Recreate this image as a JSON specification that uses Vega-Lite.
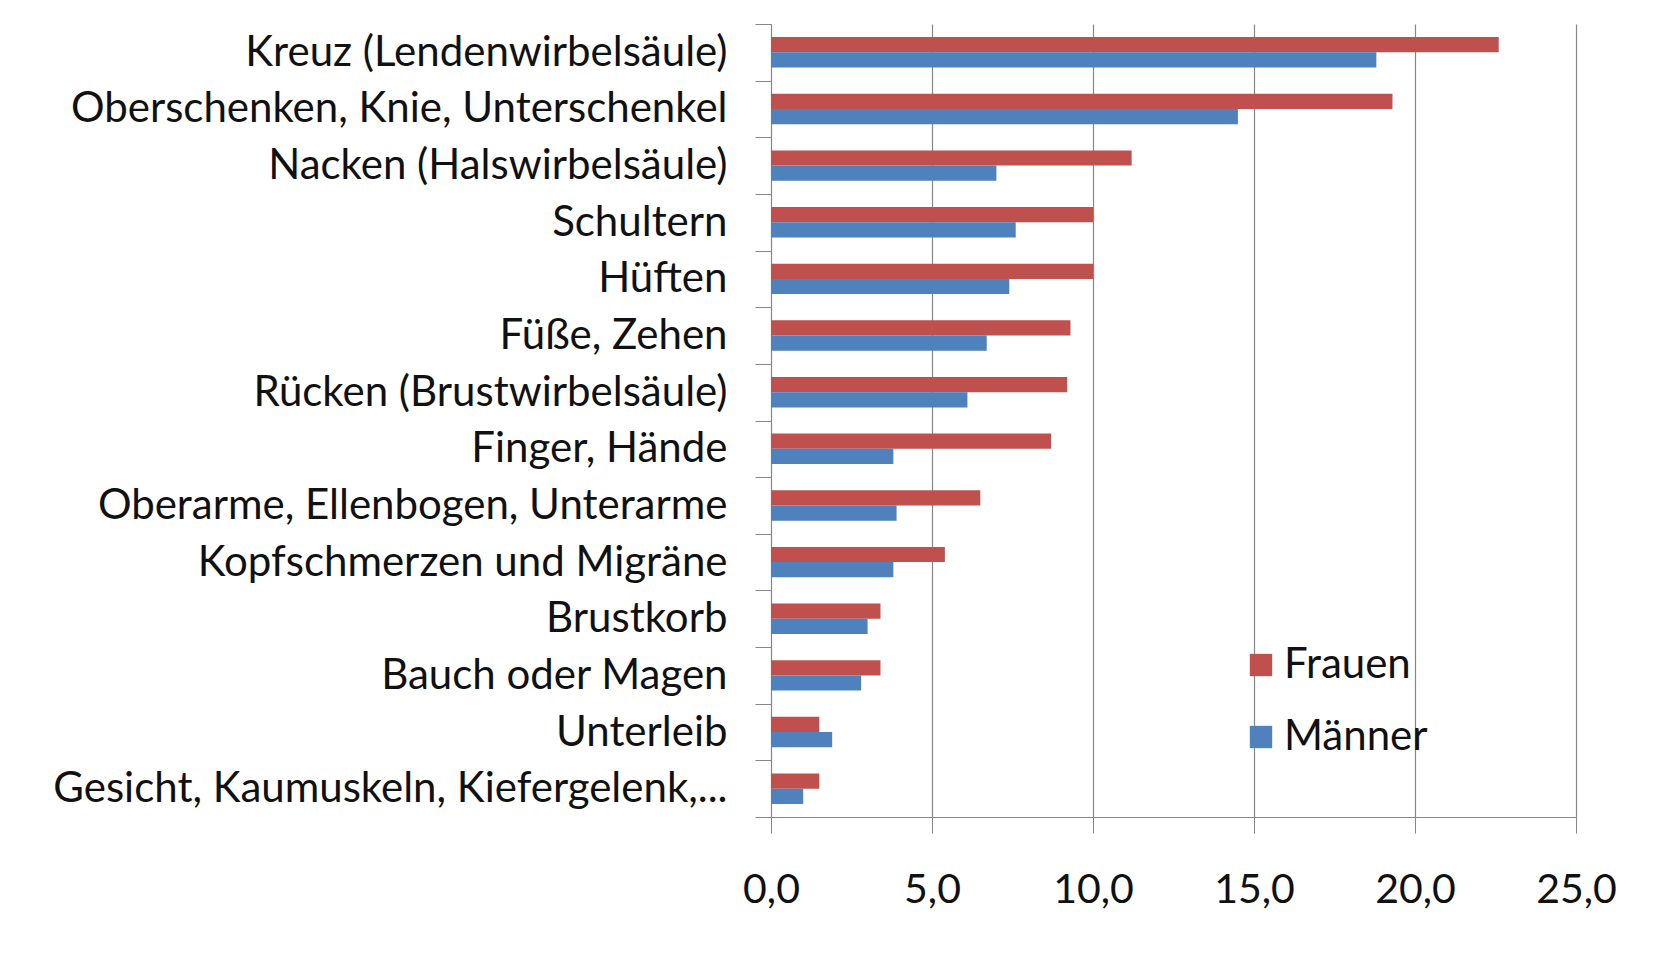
{
  "$schema": "https://vega.github.io/schema/vega-lite/v6.json",
  "autosize": {"type": "none"},
  "padding": {"left": 771, "top": 24, "right": 83, "bottom": 146},
  "width": 805,
  "height": 793,
  "background": "white",
  "config": {
    "view": {"stroke": null},
    "font": "Lato"
  },
  "data": {
    "values": [
      {"region": "Kreuz (Lendenwirbelsäule)", "series": "Frauen", "value": 22.6},
      {"region": "Kreuz (Lendenwirbelsäule)", "series": "Männer", "value": 18.8},
      {"region": "Oberschenken, Knie, Unterschenkel", "series": "Frauen", "value": 19.3},
      {"region": "Oberschenken, Knie, Unterschenkel", "series": "Männer", "value": 14.5},
      {"region": "Nacken (Halswirbelsäule)", "series": "Frauen", "value": 11.2},
      {"region": "Nacken (Halswirbelsäule)", "series": "Männer", "value": 7.0},
      {"region": "Schultern", "series": "Frauen", "value": 10.0},
      {"region": "Schultern", "series": "Männer", "value": 7.6},
      {"region": "Hüften", "series": "Frauen", "value": 10.0},
      {"region": "Hüften", "series": "Männer", "value": 7.4},
      {"region": "Füße, Zehen", "series": "Frauen", "value": 9.3},
      {"region": "Füße, Zehen", "series": "Männer", "value": 6.7},
      {"region": "Rücken (Brustwirbelsäule)", "series": "Frauen", "value": 9.2},
      {"region": "Rücken (Brustwirbelsäule)", "series": "Männer", "value": 6.1},
      {"region": "Finger, Hände", "series": "Frauen", "value": 8.7},
      {"region": "Finger, Hände", "series": "Männer", "value": 3.8},
      {"region": "Oberarme, Ellenbogen, Unterarme", "series": "Frauen", "value": 6.5},
      {"region": "Oberarme, Ellenbogen, Unterarme", "series": "Männer", "value": 3.9},
      {"region": "Kopfschmerzen und Migräne", "series": "Frauen", "value": 5.4},
      {"region": "Kopfschmerzen und Migräne", "series": "Männer", "value": 3.8},
      {"region": "Brustkorb", "series": "Frauen", "value": 3.4},
      {"region": "Brustkorb", "series": "Männer", "value": 3.0},
      {"region": "Bauch oder Magen", "series": "Frauen", "value": 3.4},
      {"region": "Bauch oder Magen", "series": "Männer", "value": 2.8},
      {"region": "Unterleib", "series": "Frauen", "value": 1.5},
      {"region": "Unterleib", "series": "Männer", "value": 1.9},
      {"region": "Gesicht, Kaumuskeln, Kiefergelenk,...", "series": "Frauen", "value": 1.5},
      {"region": "Gesicht, Kaumuskeln, Kiefergelenk,...", "series": "Männer", "value": 1.0}
    ]
  },
  "mark": {"type": "bar"},
  "encoding": {
    "y": {
      "field": "region",
      "type": "nominal",
      "sort": null,
      "scale": {"paddingInner": 0, "paddingOuter": 0},
      "axis": {
        "title": null,
        "tickBand": "extent",
        "tickSize": 16,
        "tickColor": "#868686",
        "domainColor": "#868686",
        "labelFont": "Lato",
        "labelFontSize": 42,
        "labelColor": "#111111",
        "labelPadding": 28,
        "labelLimit": 900,
        "grid": false
      }
    },
    "yOffset": {
      "field": "series",
      "type": "nominal",
      "sort": ["Frauen", "Männer"],
      "scale": {"paddingInner": 0, "paddingOuter": 0.86}
    },
    "x": {
      "field": "value",
      "type": "quantitative",
      "scale": {"domain": [0, 25], "nice": false},
      "axis": {
        "title": null,
        "values": [0, 5, 10, 15, 20, 25],
        "labelExpr": "replace(format(datum.value, '.1f'), '.', ',')",
        "grid": true,
        "gridColor": "#868686",
        "gridWidth": 1.2,
        "tickSize": 16,
        "tickColor": "#868686",
        "domainColor": "#868686",
        "labelFont": "Lato",
        "labelFontSize": 41,
        "labelColor": "#111111",
        "labelPadding": 37,
        "labelFlush": false
      }
    },
    "color": {
      "field": "series",
      "type": "nominal",
      "sort": ["Frauen", "Männer"],
      "scale": {"domain": ["Frauen", "Männer"], "range": ["#C0504D", "#4F81BD"]},
      "legend": {
        "title": null,
        "orient": "none",
        "legendX": 469,
        "legendY": 620,
        "symbolType": "square",
        "symbolSize": 500,
        "symbolStrokeWidth": 0,
        "labelFont": "Lato",
        "labelFontSize": 42,
        "labelColor": "#111111",
        "labelOffset": 2,
        "rowPadding": 30
      }
    }
  }
}
